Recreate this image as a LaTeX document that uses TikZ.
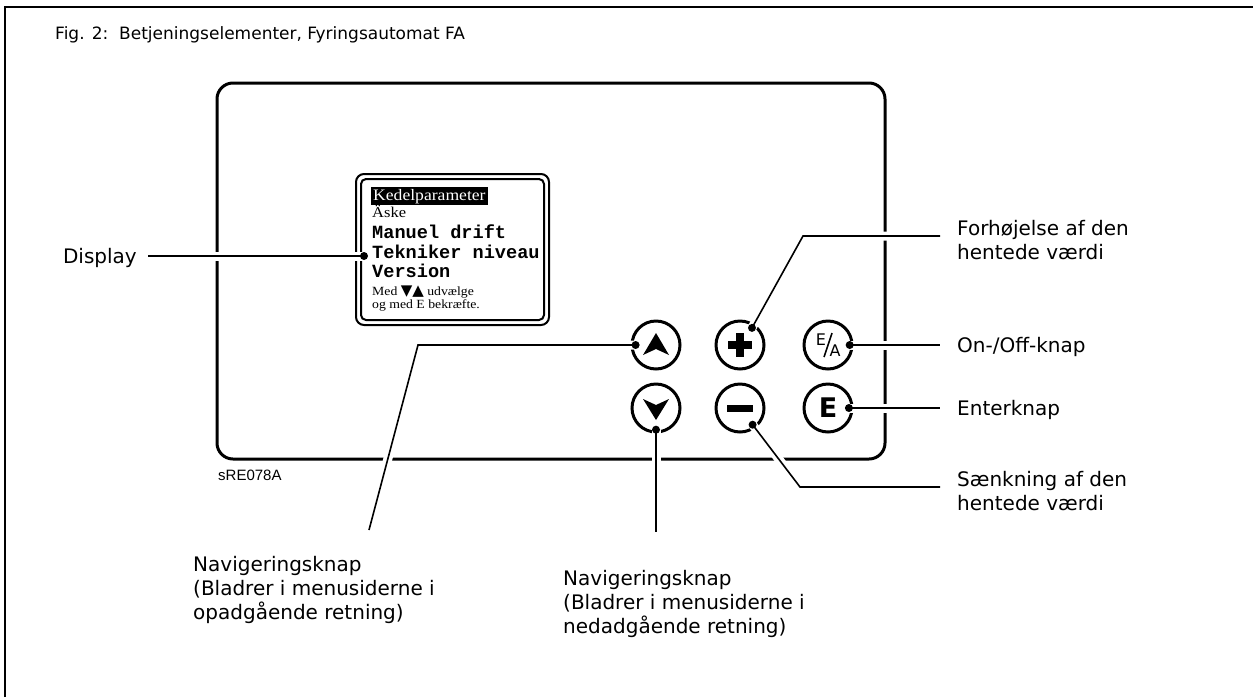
\documentclass[tikz,border=0pt]{standalone}
\usepackage{fontspec}
\usetikzlibrary{positioning,calc}
\newfontfamily\etiket{DejaVu Sans}
\newfontfamily\lcdmono{Liberation Mono}
\newfontfamily\lcdserif[FakeStretch=1.1]{Liberation Serif}
\newfontfamily\kodefont{Liberation Sans}

\tikzset{
  panel/.style={draw, line width=3pt, rounded corners=16pt},
  knap/.style={circle, draw, line width=3pt, minimum size=48pt, inner sep=0pt},
  leder/.style={line width=1.6pt, preaction={draw, white, line width=9pt}},
  prik/.style={circle, fill, inner sep=0pt, minimum size=8pt},
  tekst/.style={font=\etiket\fontsize{20}{24}\selectfont, align=left, inner sep=0pt},
  lcd/.style={anchor=base west, inner sep=0pt},
  lcdlille/.style={lcd, font=\lcdserif\fontsize{12.5}{12.5}\selectfont},
  lcdstor/.style={lcd, font=\lcdmono\bfseries\fontsize{18.6}{18.6}\selectfont},
  knaptegn/.style={font=\etiket\fontsize{16}{16}\selectfont, inner sep=0pt}
}

\begin{document}
\begin{tikzpicture}[x=1pt, y=-1pt]
\useasboundingbox (0,0) rectangle (1253,697);
\draw[line width=2.5pt] (5,697) -- (5,7) -- (1253,7);
\node[tekst, font=\etiket\fontsize{17}{20}\selectfont, anchor=base west] (titel) at (55,39) {Fig. 2:\ \ Betjeningselementer, Fyringsautomat FA};

\draw[panel] (217,83) rectangle (885,459);
\draw[line width=2pt, rounded corners=8pt] (356,174) rectangle (549,325);
\draw[line width=2pt, rounded corners=5pt] (361,179) rectangle (544,320);

\node[lcd, font=\lcdserif\fontsize{16}{16}\selectfont, fill=black, text=white, inner sep=2pt] (l1) at (371,200) {Kedelparameter};
\node[lcd, font=\lcdserif\fontsize{15}{15}\selectfont] (l2) at (372,217) {Äske};
\node[lcdstor] (l3) at (372,238) {Manuel drift};
\node[lcdstor] (l4) at (372,258) {Tekniker niveau};
\node[lcdstor] (l5) at (372,277) {Version};
\node[lcdlille] (l6) at (372,295) {Med {\etiket\fontsize{15}{15}\selectfont ▼▲} udvælge};
\node[lcdlille] (l7) at (372,308.5) {og med E bekræfte.};

\node[knap] (op) at (656,345) {};
\node[knap] (plus) at (740,345) {};
\node[knap] (ea) at (828,345) {};
\node[knap] (ned) at (656,408) {};
\node[knap] (minus) at (740,408) {};
\node[knap] (enter) at (828,408) {};

\fill[shift={(op)}] (0,-12) -- (13,10) -- (0,4) -- (-13,10) -- cycle;
\fill[shift={(ned)}] (0,12) -- (13,-9) -- (0,-3) -- (-13,-9) -- cycle;
\draw[line width=8pt, shift={(plus)}] (-12,0) -- (12,0) (0,-12) -- (0,12);
\draw[line width=7pt, shift={(minus)}] (-13,0) -- (13,0);
\node[knaptegn] (eaE) at ($(ea)+(-7,-5)$) {E};
\node[knaptegn] (eaA) at ($(ea)+(7,6)$) {A};
\draw[line width=1.6pt, shift={(ea)}] (-4,12) -- (4,-12);
\node[font=\etiket\bfseries\fontsize{27}{27}\selectfont, inner sep=0pt] at (enter) {E};

\coordinate (displayprik) at (364,256);
\coordinate (displayende) at (148,256);
\coordinate (opprik) at ($(op.center)!0.8!(op.west)$);
\coordinate (opknaek) at (418,345);
\coordinate (opende) at (369,530);
\coordinate (nedprik) at ($(ned.center)!0.85!(ned.south)$);
\coordinate (nedende) at (656,532);
\coordinate (plusprik) at ($(plus.center)!0.82!(plus.55)$);
\coordinate (plusknaek) at (803,236);
\coordinate (plusende) at (940,236);
\coordinate (eaprik) at ($(ea.center)!0.85!(ea.east)$);
\coordinate (eaende) at (940,345);
\coordinate (enterprik) at ($(enter.center)!0.82!(enter.east)$);
\coordinate (enterende) at (940,408);
\coordinate (minusprik) at ($(minus.center)!0.82!(minus.-53)$);
\coordinate (minusknaek) at (800,487);
\coordinate (minusende) at (940,487);

\draw[leder] (displayprik) -- (displayende);
\draw[leder] (opprik) -- (opknaek) -- (opende);
\draw[leder] (nedprik) -- (nedende);
\draw[leder] (plusprik) -- (plusknaek) -- (plusende);
\draw[leder] (eaprik) -- (eaende);
\draw[leder] (enterprik) -- (enterende);
\draw[leder] (minusprik) -- (minusknaek) -- (minusende);
\foreach \p in {displayprik, opprik, nedprik, plusprik, eaprik, enterprik, minusprik}
  \node[prik] at (\p) {};

\node[tekst, anchor=base east] (display) at (137,263) {Display};
\node[tekst, anchor=north west] (plustekst) at (957,220) {Forhøjelse af den\\hentede værdi};
\node[tekst, anchor=base west] (eatekst) at (957,352) {On-/Off-knap};
\node[tekst, anchor=base west] (entertekst) at (957,415) {Enterknap};
\node[tekst, anchor=north west] (minustekst) at (957,471) {Sænkning af den\\hentede værdi};
\node[tekst, anchor=north west] (optekst) at (193,556) {Navigeringsknap\\(Bladrer i menusiderne i\\opadgående retning)};
\node[tekst, anchor=north west] (nedtekst) at (563,570) {Navigeringsknap\\(Bladrer i menusiderne i\\nedadgående retning)};
\node[font=\kodefont\fontsize{15}{15}\selectfont, anchor=base west, inner sep=0pt] (kode) at (218,480) {sRE078A};
\end{tikzpicture}
\end{document}
